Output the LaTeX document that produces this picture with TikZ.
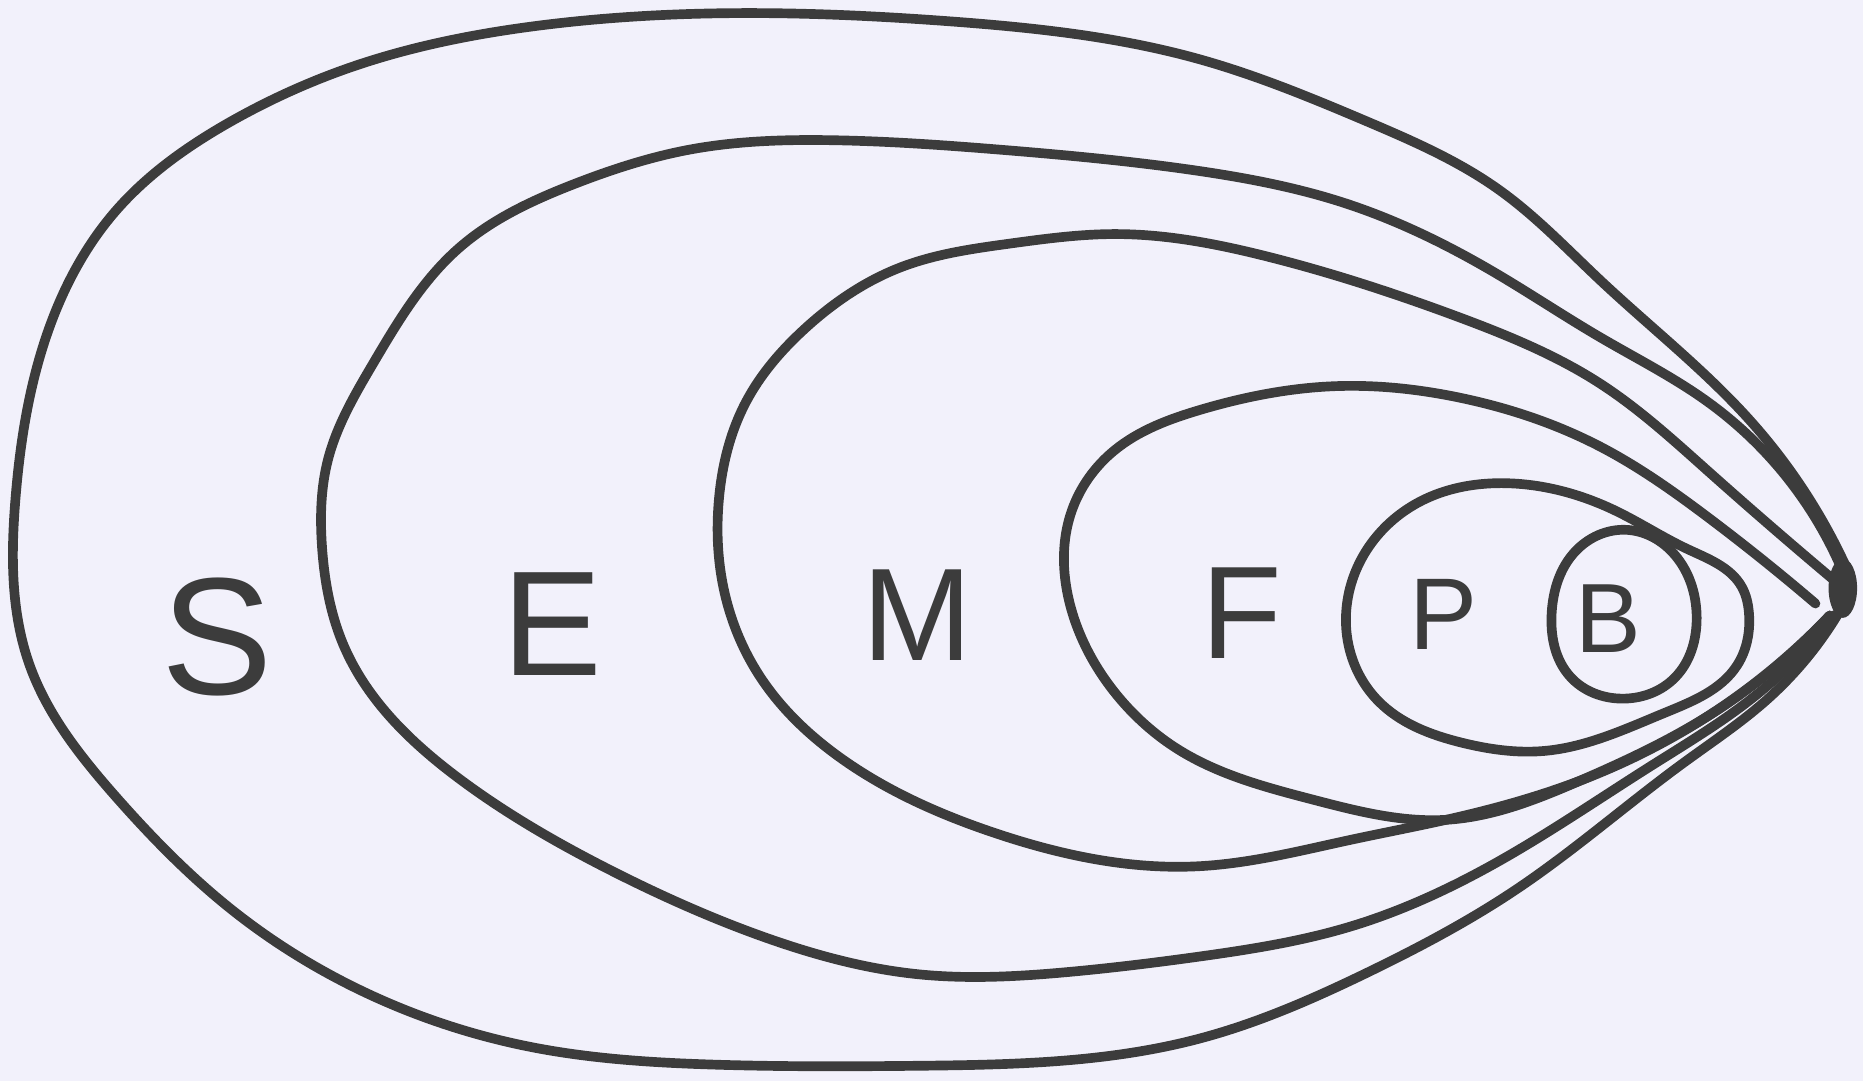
\documentclass[tikz,border=0pt]{standalone}
\usepackage{fontspec}
\setmainfont{Liberation Sans}
\usetikzlibrary{hobby}
\definecolor{paper}{HTML}{F2F1FB}
\definecolor{ink}{HTML}{3C3C3C}
\tikzset{
  % marker-like strokes for the nested shells
  shell/.style = {ink, line width=5.5pt, line join=round, line cap=round, use Hobby shortcut},
  lbl/.style   = {ink, inner sep=0pt, font=\fontsize{#1}{#1}\selectfont},
  lbl/.default = 80,
}

\begin{document}
\begin{tikzpicture}[x=0.02376cm, y=-0.02376cm]
  \fill[paper] (0,0) rectangle (1568,910);
  \useasboundingbox (0,0) rectangle (1568,910);
  % shells, each from the tip round to the tip
  \draw[shell] (1556,482) .. (1473,354) .. (1347,236) .. (1262,160) .. (1150,102)
    .. (1010,50) .. (800,18) .. (628,11) .. (450,22) .. (300,55) .. (193,103) .. (97,178)
    .. (40,280) .. (13,420) .. (25,560) .. (97,670) .. (193,764) .. (322,842) .. (451,882)
    .. (600,896) .. (773,897) .. (1010,874) .. (1152,818) .. (1277,748) .. (1417,642)
    .. (1487,589) .. (1548,515);
  \draw[shell] (1553,486) .. (1437,338) .. (1347,284) .. (1259,230) .. (1132,171)
    .. (1003,143) .. (842,126) .. (700,118) .. (580,126) .. (483,155) .. (386,209)
    .. (314,306) .. (276,387) .. (271,460) .. (290,545) .. (386,655) .. (515,733)
    .. (644,789) .. (773,820) .. (900,818) .. (1010,805) .. (1136,780) .. (1263,724)
    .. (1389,645) .. (1473,589) .. (1545,517);
  \draw[shell] (1548,492) .. (1437,396) .. (1347,323) .. (1228,267) .. (1067,216)
    .. (938,197) .. (850,205) .. (758,225) .. (677,277) .. (628,338) .. (605,421)
    .. (608,490) .. (640,570) .. (709,639) .. (837,701) .. (1010,729) .. (1136,707)
    .. (1217,690) .. (1330,657) .. (1437,603) .. (1540,518);
  \draw[shell] (1528,508) .. (1437,435) .. (1347,376) .. (1230,335) .. (1124,325)
    .. (1010,345) .. (938,379) .. (902,430) .. (902,514) .. (940,585) .. (992,631)
    .. (1105,673) .. (1217,690) .. (1330,657) .. (1437,603) .. (1540,518);
  % the two small closed ones
  \draw[shell, closed=true] (1133,515) .. (1160,590) .. (1230,625) .. (1300,632)
    .. (1401,600) .. (1462,560) .. (1472,516) .. (1466,494) .. (1420,462) .. (1360,430)
    .. (1275,407) .. (1190,425) .. (1133,515);
  \draw[shell, closed=true] (1306,515) .. (1325,465) .. (1370,446) .. (1412,470)
    .. (1428,520) .. (1410,570) .. (1365,588) .. (1322,570) .. (1306,515);
  % ink blot where they meet
  \fill[ink] (1551,495) ellipse [x radius=12, y radius=25];
  % labels
  \node[lbl=95] (s) at (183,536) {S};
  \node[lbl=85] (e) at (465,525) {E};
  \node[lbl=75] (m) at (772,518) {M};
  \node[lbl=75] (f) at (1045,516) {F};
  \node[lbl=58] (p) at (1215,517) {P};
  \node[lbl=56] (b) at (1354,521) {B};
\end{tikzpicture}
\end{document}
